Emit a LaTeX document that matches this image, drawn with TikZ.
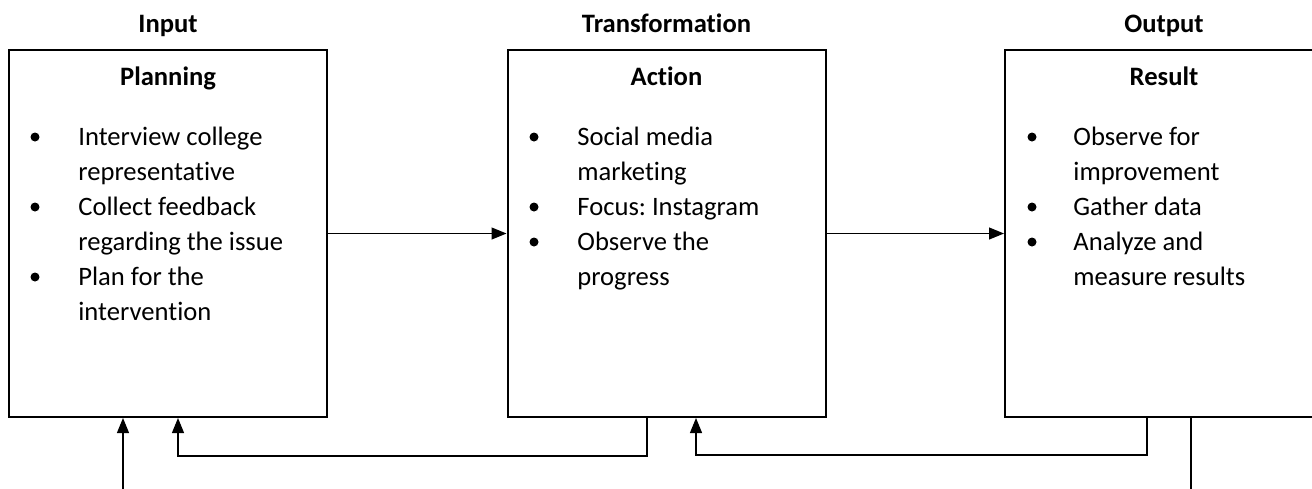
\documentclass[tikz,border=0pt]{standalone}
\usepackage{fontspec}
\setmainfont{Carlito}[RawFeature=-liga]
\usepackage{tikz}
\usetikzlibrary{arrows.meta}
\frenchspacing

\begin{document}
\begin{tikzpicture}[
      x=0.5pt, y=-0.5pt,
      font=\fontsize{13.3}{17.5}\selectfont,
      box/.style={draw=black, line width=1pt, minimum width=159pt, minimum height=183.5pt, inner sep=0pt},
      title/.style={font=\fontsize{13.3}{17.5}\selectfont\bfseries, anchor=base, inner sep=0pt},
      line/.style={anchor=base west, inner sep=0pt},
      bul/.style={circle, fill=black, minimum size=4.5pt, inner sep=0pt},
      arr/.style={-{Triangle[length=7.5pt,width=6pt]}, line width=0.6pt}
    ]
    \useasboundingbox (0,0) rectangle (1312,488);
    \clip (0,0) rectangle (1312,488);

    % the three stages
    \node[box] (plan) at (168,233.5) {};
    \node[box] (act) at (666.5,233.5) {};
    \node[box] (res) at (1164,233.5) {};

    \node[title] (in) at (168,32) {Input};
    \node[title] (tr) at (666.5,32) {Transformation};
    \node[title] (out) at (1164,32) {Output};

    \node[title] (plan-h) at (168,85) {Planning};
    \node[title] (act-h) at (666.5,85) {Action};
    \node[title] (res-h) at (1164,85) {Result};

    % bullet lists, one line every 35px
    \foreach \b/\t [count=\i from 0] in {1/Interview college, 0/representative,
        1/Collect feedback, 0/regarding the issue, 1/Plan for the, 0/intervention} {
      \node[line] (plan-\i) at (78,145+35*\i) {\t};
      \ifnum\b=1 \node[bul] (plan-b\i) at (35,137+35*\i) {}; \fi
    }
    \foreach \b/\t [count=\i from 0] in {1/Social media, 0/marketing,
        1/Focus: Instagram, 1/Observe the, 0/progress} {
      \node[line] (act-\i) at (577,145+35*\i) {\t};
      \ifnum\b=1 \node[bul] (act-b\i) at (534,137+35*\i) {}; \fi
    }
    \foreach \b/\t [count=\i from 0] in {1/Observe for, 0/improvement,
        1/Gather data, 1/Analyze and, 0/measure results} {
      \node[line] (res-\i) at (1073,145+35*\i) {\t};
      \ifnum\b=1 \node[bul] (res-b\i) at (1032,137+35*\i) {}; \fi
    }

    % forward flow
    \draw[arr] (plan.east) -- (act.west);
    \draw[arr] (act.east) -- (res.west);

    % feedback loops under the boxes
    \coordinate (fa1) at (178,456);
    \coordinate (fb1) at (647,456);
    \draw[arr] (fb1 |- act.south) -- (fb1) -- (fa1) -- (fa1 |- plan.south);
    \coordinate (fa2) at (696,455);
    \coordinate (fb2) at (1147,455);
    \draw[arr] (fb2 |- res.south) -- (fb2) -- (fa2) -- (fa2 |- act.south);
    \coordinate (fa3) at (123,520);
    \coordinate (fb3) at (1191,520);
    \draw[arr] (fb3 |- res.south) -- (fb3) -- (fa3) -- (fa3 |- plan.south);
  \end{tikzpicture}
\end{document}
